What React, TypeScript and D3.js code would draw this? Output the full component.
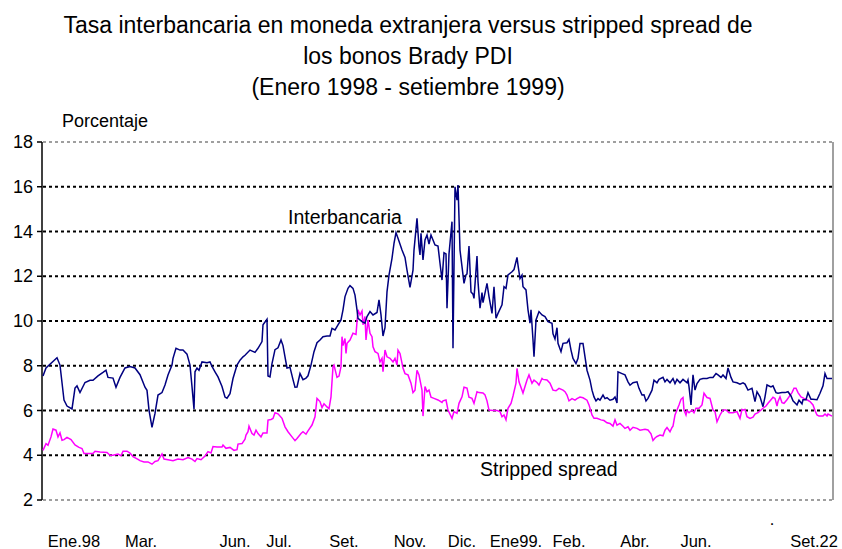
import * as d3 from 'd3'

const W = 842
const H = 549

const titleLines = [
  'Tasa interbancaria en moneda extranjera versus stripped spread de',
  'los bonos Brady PDI',
  '(Enero 1998 - setiembre 1999)',
]

const yTicks = [2, 4, 6, 8, 10, 12, 14, 16, 18]

// etiquetas del eje horizontal y la observacion donde van centradas
const xLabels = ['Ene.98', 'Mar.', 'Jun.', 'Jul.', 'Set.', 'Nov.', 'Dic.', 'Ene99.', 'Feb.', 'Abr.', 'Jun.', '.', 'Set.22']
const xLabelObs = [31, 98, 192, 236, 301, 367, 419, 473, 526, 592, 653, 729, 771]

// Tasa interbancaria (observacion, %)
const interObs = [
  0, 3, 14, 17, 21, 24, 29, 32, 34, 37, 42, 47, 50, 55, 60, 63, 65, 70, 73, 77, 82, 87, 92, 97,
  102, 104, 106, 109, 112, 115, 119, 122, 125, 129, 130, 133, 137, 140, 144, 147, 149, 151, 152, 154,
  156, 159, 164, 167, 169, 172, 175, 179, 182, 184, 187, 190, 194, 197, 200, 202, 207, 212, 215, 219,
  220, 224, 225, 227, 229, 232, 235, 238, 240, 242, 244, 247, 250, 252, 254, 257, 260, 263, 265, 268,
  271, 274, 277, 280, 284, 287, 289, 292, 295, 298, 300, 302, 305, 307, 310, 312, 314, 315, 319, 322,
  324, 327, 330, 334, 336, 338, 340, 342, 344, 346, 349, 351, 353, 355, 359, 362, 364, 367, 370, 371,
  374, 376, 377, 378, 380, 382, 384, 386, 388, 390, 392, 395, 397, 399, 401, 403, 404, 406, 409, 410,
  412, 414, 415, 417, 419, 421, 423, 424, 426, 428, 430, 431, 434, 435, 437, 439, 440, 444, 446, 449,
  451, 453, 455, 459, 461, 463, 465, 469, 471, 474, 475, 477, 479, 480, 483, 485, 487, 488, 490, 491,
  493, 496, 499, 502, 505, 509, 510, 512, 514, 515, 518, 520, 524, 526, 528, 530, 533, 535, 537, 540,
  542, 544, 547, 549, 551, 553, 555, 557, 560, 562, 564, 567, 570, 572, 574, 575, 579, 582, 585, 587,
  590, 594, 596, 599, 601, 603, 605, 609, 611, 614, 616, 620, 622, 624, 627, 630, 632, 634, 637, 640,
  644, 645, 646, 648, 650, 652, 654, 657, 660, 664, 667, 670, 673, 675, 678, 680, 683, 685, 688, 690,
  694, 697, 700, 702, 705, 709, 712, 714, 717, 720, 722, 724, 728, 730, 733, 735, 739, 742, 745, 748,
  750, 754, 756, 759, 760, 763, 765, 768, 770, 774, 777, 780, 782, 784, 789,
]
const interValor = [
  7.54, 7.9, 8.36, 8.03, 6.47, 6.2, 6.07, 7.0, 7.1, 6.8, 7.25, 7.35, 7.35, 7.55, 7.7, 7.8, 7.48, 7.45, 7.04, 7.48, 7.9, 7.97, 7.9, 7.6,
  7.04, 6.9, 6.02, 5.25, 5.87, 6.69, 6.8, 7.14, 7.59, 8.03, 8.33, 8.78, 8.7, 8.7, 8.52, 8.03, 7.07, 6.06, 7.73, 7.9,
  7.8, 8.17, 8.13, 8.17, 7.97, 7.73, 7.5, 7.07, 6.6, 6.55, 6.75, 7.43, 8.03, 8.25, 8.4, 8.47, 8.7, 8.6, 8.78, 9.08,
  9.83, 10.08, 7.54, 7.5, 8.1, 8.72, 8.8, 9.15, 8.9, 8.4, 7.9, 7.93, 7.38, 7.04, 7.05, 7.65, 7.38, 7.45, 7.55, 8.03,
  8.63, 9.03, 9.15, 9.3, 9.33, 9.33, 9.67, 9.6, 9.83, 10.05, 10.5, 11.09, 11.46, 11.58, 11.46, 11.16, 10.5, 10.12, 9.97, 9.9,
  10.2, 10.42, 10.27, 10.38, 10.94, 10.27, 9.33, 9.7, 11.3, 12.05, 12.8, 13.47, 13.95, 13.7, 13.17, 12.84, 12.27, 11.5, 12.27, 13.17,
  14.59, 13.32, 12.95, 13.92, 12.73, 13.62, 13.84, 13.44, 13.84, 13.62, 13.4, 13.35, 12.58, 11.83, 13.05, 13.0, 10.57, 13.0, 14.44, 8.78,
  16.0, 15.4, 16.08, 13.17, 12.43, 11.68, 12.06, 12.1, 13.35, 11.3, 11.2, 11.01, 12.9, 11.76, 10.57, 11.27, 10.82, 11.68, 11.09, 10.34,
  11.53, 10.12, 10.34, 10.72, 11.53, 11.46, 12.06, 12.2, 12.3, 12.84, 12.5, 11.9, 12.05, 11.53, 11.39, 10.5, 9.9, 10.5, 9.15, 8.4,
  10.05, 10.42, 10.27, 10.2, 9.97, 9.9, 9.43, 9.2, 9.7, 9.0, 8.63, 9.0, 9.03, 9.18, 8.7, 8.33, 8.1, 8.33, 9.0, 9.0,
  8.4, 7.8, 7.36, 6.91, 6.61, 6.43, 6.53, 6.46, 6.69, 6.53, 6.57, 6.46, 6.5, 6.6, 6.34, 7.73, 7.65, 7.59, 7.28, 7.13,
  7.24, 7.28, 6.99, 6.69, 6.7, 6.43, 6.54, 6.91, 7.36, 7.24, 7.39, 7.48, 7.28, 7.39, 7.24, 7.43, 7.2, 7.39, 7.24, 7.39,
  7.24, 7.36, 7.07, 6.25, 7.59, 6.91, 7.2, 7.39, 7.43, 7.43, 7.48, 7.48, 7.65, 7.59, 7.48, 7.59, 7.43, 7.9, 7.48, 7.28,
  7.24, 7.18, 7.24, 7.18, 6.91, 6.99, 6.4, 6.84, 6.61, 6.17, 6.61, 7.14, 7.05, 7.1, 6.8, 6.77, 6.8, 6.8, 6.84, 6.65,
  6.43, 6.25, 6.46, 6.3, 6.48, 6.48, 6.8, 6.5, 6.5, 6.48, 6.77, 7.1, 7.65, 7.43, 7.43,
]

// Stripped spread (observacion, %)
const spreadObs = [
  0, 3, 5, 8, 10, 13, 15, 17, 19, 21, 24, 28, 32, 36, 39, 41, 47, 50, 52, 57, 64, 67, 70, 75,
  78, 80, 84, 87, 90, 95, 97, 101, 105, 109, 112, 115, 119, 121, 125, 130, 135, 140, 145, 149,
  152, 154, 158, 162, 165, 168, 170, 174, 179, 180, 183, 187, 191, 194, 195, 199, 202, 203, 205, 206,
  209, 211, 213, 215, 218, 220, 224, 225, 228, 230, 232, 235, 239, 242, 245, 249, 252, 254, 258, 260,
  263, 265, 269, 272, 274, 277, 279, 281, 284, 286, 288, 290, 291, 294, 296, 298, 299, 300, 302, 303,
  304, 307, 310, 313, 315, 317, 319, 320, 322, 323, 325, 327, 329, 330, 332, 335, 337, 339, 340, 342,
  344, 347, 350, 352, 354, 355, 357, 360, 362, 365, 368, 370, 372, 374, 376, 379, 380, 382, 384, 386,
  388, 391, 395, 399, 400, 403, 405, 409, 411, 414, 416, 419, 421, 424, 426, 429, 431, 434, 436, 440,
  442, 444, 446, 450, 454, 457, 459, 461, 463, 465, 468, 470, 473, 474, 476, 479, 480, 482, 484, 486,
  489, 491, 494, 496, 499, 500, 504, 507, 510, 513, 516, 520, 522, 524, 526, 529, 532, 534, 537, 540,
  544, 546, 549, 551, 554, 558, 561, 564, 567, 570, 572, 574, 577, 580, 582, 585, 587, 590, 594, 597,
  602, 605, 608, 610, 612, 614, 617, 620, 622, 624, 627, 629, 630, 632, 634, 636, 638, 640, 641, 643,
  644, 646, 649, 651, 653, 656, 659, 661, 664, 667, 670, 672, 674, 677, 680, 683, 686, 690, 694, 696,
  697, 699, 700, 702, 704, 707, 710, 712, 715, 718, 720, 723, 725, 728, 730, 732, 734, 735, 737, 739,
  741, 744, 746, 749, 751, 753, 755, 758, 761, 764, 767, 770, 772, 774, 776, 780, 782, 784, 785, 789,
]
const spreadValor = [
  4.22, 4.52, 4.45, 4.82, 5.17, 5.12, 4.82, 5.0, 4.67, 4.7, 4.8, 4.7, 4.46, 4.35, 4.3, 4.08, 4.08, 4.08, 4.18, 4.15, 4.12, 4.0, 4.0, 4.05,
  3.98, 4.18, 4.18, 4.1, 3.94, 3.82, 3.76, 3.7, 3.7, 3.6, 3.72, 3.76, 4.06, 3.83, 3.8, 3.76, 3.83, 3.8, 3.9, 3.83,
  3.72, 3.85, 3.8, 3.97, 4.16, 4.1, 4.39, 4.37, 4.37, 4.46, 4.31, 4.35, 4.22, 4.25, 4.5, 4.52, 4.72, 4.9, 5.05, 5.3,
  4.97, 4.9, 5.12, 4.97, 4.82, 5.0, 5.0, 5.57, 5.6, 5.64, 5.9, 5.85, 5.65, 5.27, 5.05, 4.82, 4.65, 4.75, 4.97, 5.05,
  4.94, 5.09, 5.35, 5.72, 6.54, 6.4, 6.13, 6.3, 6.16, 6.08, 6.61, 7.96, 8.03, 7.48, 7.54, 7.96, 9.3, 8.9, 9.22, 8.55,
  9.0, 9.15, 9.45, 9.4, 10.5, 10.27, 10.45, 9.83, 10.2, 9.15, 10.05, 9.45, 9.3, 8.85, 8.63, 8.55, 8.17, 8.33, 7.73, 8.7,
  8.4, 8.33, 8.17, 8.33, 8.03, 8.7, 8.55, 7.9, 7.65, 7.59, 7.22, 6.8, 6.91, 7.8, 7.59, 6.91, 5.75, 7.07, 6.84, 6.91,
  6.59, 6.54, 6.47, 6.36, 6.43, 6.47, 6.02, 5.65, 5.95, 5.87, 6.32, 6.61, 7.04, 7.0, 6.59, 6.54, 6.32, 6.84, 6.8, 6.78,
  6.7, 6.43, 6.02, 6.0, 6.0, 5.95, 5.72, 5.8, 5.58, 6.1, 6.32, 6.65, 7.22, 7.88, 7.28, 6.91, 6.78, 7.07, 7.36, 7.59,
  7.22, 7.36, 7.25, 7.14, 7.43, 7.39, 7.36, 7.22, 6.91, 6.88, 6.99, 6.91, 6.84, 6.69, 6.43, 6.53, 6.46, 6.53, 6.6, 6.57,
  6.46, 6.25, 5.8, 5.65, 5.65, 5.58, 5.55, 5.45, 5.42, 5.3, 5.58, 5.34, 5.42, 5.3, 5.2, 5.27, 5.12, 5.25, 5.2, 5.12,
  5.16, 5.13, 4.96, 4.66, 4.77, 4.84, 4.9, 4.87, 5.12, 5.24, 5.05, 5.24, 5.3, 5.8, 6.02, 6.25, 6.5, 6.58, 6.02, 5.8,
  6.0, 5.9, 6.02, 5.9, 6.1, 6.1, 6.25, 6.77, 6.58, 6.54, 6.02, 5.95, 5.5, 5.8, 6.02, 6.02, 5.9, 5.9, 5.95, 5.75,
  5.65, 6.05, 6.02, 6.05, 5.72, 5.65, 5.7, 5.84, 5.9, 6.02, 6.1, 6.2, 6.32, 6.48, 6.59, 6.54, 6.2, 6.4, 6.61, 6.35,
  6.32, 6.48, 6.61, 6.8, 7.0, 7.0, 6.8, 6.61, 6.54, 6.48, 6.4, 6.25, 6.0, 5.8, 5.75, 5.75, 5.84, 5.75, 5.84, 5.75,
]

const font = '"Liberation Sans", Arial, sans-serif'

export default function App() {
  const x = d3.scaleLinear().domain([0, 789]).range([43, 832])
  const y = d3.scaleLinear().domain([2, 18]).range([500, 142])

  const line = d3
    .line<[number, number]>()
    .x(d => x(d[0]))
    .y(d => y(d[1]))

  const inter = interObs.map((o, i) => [o, interValor[i]] as [number, number])
  const spread = spreadObs.map((o, i) => [o, spreadValor[i]] as [number, number])

  const [x0, x1] = x.range()

  return (
    <svg
      width={W}
      height={H}
      style={{ position: 'absolute', left: 0, top: 0, background: '#fff' }}
      fontFamily={font}
    >
      {titleLines.map((t, i) => (
        <text key={t} x={408} y={33 + i * 31} textAnchor="middle" fontSize={23} fill="#000">
          {t}
        </text>
      ))}

      <text x={62} y={127} fontSize={18}>Porcentaje</text>

      {/* rejilla */}
      {yTicks.map(t => {
        const edge = t === 2 || t === 18
        return (
          <line
            key={t}
            x1={x0}
            x2={x1}
            y1={y(t)}
            y2={y(t)}
            stroke={edge ? '#808080' : '#000'}
            strokeWidth={edge ? 1.5 : 2}
            strokeDasharray="3,3"
          />
        )
      })}
      <line x1={x1 + 1} x2={x1 + 1} y1={y(18)} y2={y(2)} stroke="#808080" strokeWidth={1.5} />

      {/* eje vertical */}
      <line x1={x0 - 1} x2={x0 - 1} y1={y(18)} y2={y(2)} stroke="#000" strokeWidth={1.5} />
      {yTicks.map(t => (
        <g key={t}>
          <line x1={x0 - 6} x2={x0 - 1} y1={y(t)} y2={y(t)} stroke="#000" strokeWidth={1.5} />
          <text x={33} y={y(t) + 6} textAnchor="end" fontSize={18}>
            {t}
          </text>
        </g>
      ))}

      {xLabels.map((l, i) => (
        <text
          key={i}
          x={x(xLabelObs[i])}
          y={l === '.' ? 525 : 547}
          textAnchor="middle"
          fontSize={16.5}
        >
          {l}
        </text>
      ))}

      <path d={line(spread) ?? ''} fill="none" stroke="#ff00ff" strokeWidth={1.5} />
      <path d={line(inter) ?? ''} fill="none" stroke="#000080" strokeWidth={1.5} />

      <text x={288} y={224} fontSize={19.5}>Interbancaria</text>
      <text x={480} y={476} fontSize={19.5}>Stripped spread</text>
    </svg>
  )
}
